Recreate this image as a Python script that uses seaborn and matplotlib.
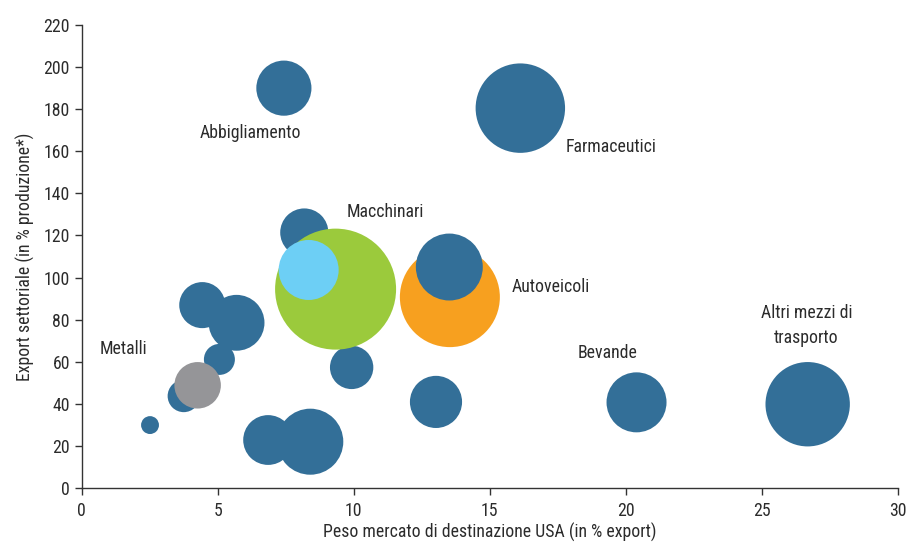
import pandas as pd
import seaborn as sns
import matplotlib.pyplot as plt
from matplotlib import font_manager

# quota USA sull'export (%), export settoriale (% produzione), peso del settore (area bolla)
quota_usa = [7.43, 16.12, 8.18, 4.43, 5.69, 5.06, 3.75, 2.51, 6.85, 8.40, 9.92, 13.02,
             20.39, 26.68, 4.26, 9.33, 8.34, 13.53, 13.51]
export_prod = [190.0, 180.5, 121.4, 86.9, 78.5, 61.1, 43.7, 29.9, 22.8, 22.0, 57.3, 40.9,
               40.7, 39.8, 48.8, 94.5, 103.6, 90.7, 105.0]
peso = [7.6, 20.0, 5.8, 5.3, 7.8, 2.4, 2.6, 0.8, 6.2, 10.9, 4.7, 6.8,
        9.0, 17.8, 5.4, 36.6, 9.0, 25.0, 11.2]
gruppo = ['altri'] * 14 + ['metalli', 'macchinari', 'macchinari_b', 'autoveicoli', 'altri']

etichette = ['Abbigliamento', 'Farmaceutici', 'Macchinari', 'Autoveicoli', 'Bevande',
             'Altri mezzi di\ntrasporto', 'Metalli']
etichette_x = [6.19, 17.77, 11.16, 15.79, 19.34, 26.63, 1.53]
etichette_y = [168.6, 162.0, 131.3, 95.3, 64.3, 77.0, 66.0]
etichette_ha = ['center', 'left', 'center', 'left', 'center', 'center', 'center']

colori = {'altri': '#336f98', 'metalli': '#959598', 'macchinari': '#9bca3c',
          'macchinari_b': '#6dcff5', 'autoveicoli': '#f7a01f'}

df = pd.DataFrame({'quota': quota_usa, 'export': export_prod, 'peso': peso, 'gruppo': gruppo})

sns.set_style('white')
installed = {f.name for f in font_manager.fontManager.ttflist}
for fam in ['Liberation Sans Narrow', 'Roboto Condensed', 'Open Sans Condensed', 'Roboto']:
    if fam in installed:
        plt.rcParams['font.family'] = [fam, 'DejaVu Sans']
        break
txt = '#2b2b2b'
fs = 12.8

fig = plt.figure(figsize=(9.08, 5.45), dpi=100)
ax = fig.add_axes([0.09, 0.1046, 0.899, 0.8495])

sns.scatterplot(data=df, x='quota', y='export', size='peso', hue='gruppo', palette=colori,
                sizes=(0, 207.36 * 40), size_norm=(0, 40), linewidth=0, alpha=1,
                legend=False, ax=ax)

for t, x, y, ha in zip(etichette, etichette_x, etichette_y, etichette_ha):
    ax.text(x, y, t, ha=ha, va='center', fontsize=fs, color=txt, linespacing=1.5)

ax.set_xlim(0, 30)
ax.set_ylim(0, 220)
ax.set_xticks(range(0, 31, 5))
ax.set_yticks(range(0, 221, 20))
ax.set_xlabel('Peso mercato di destinazione USA (in % export)', fontsize=fs, color=txt, labelpad=2)
ax.set_ylabel('Export settoriale (in % produzione*)', fontsize=fs, color=txt, labelpad=6)
ax.tick_params(axis='both', direction='out', length=5, width=1, color='#333333',
               labelsize=fs, labelcolor=txt, left=True, bottom=True)
ax.tick_params(axis='x', pad=5)
sns.despine(ax=ax)
for s in ['left', 'bottom']:
    ax.spines[s].set_color('#333333')
    ax.spines[s].set_linewidth(1)

fig.savefig('out.png', dpi=100)
